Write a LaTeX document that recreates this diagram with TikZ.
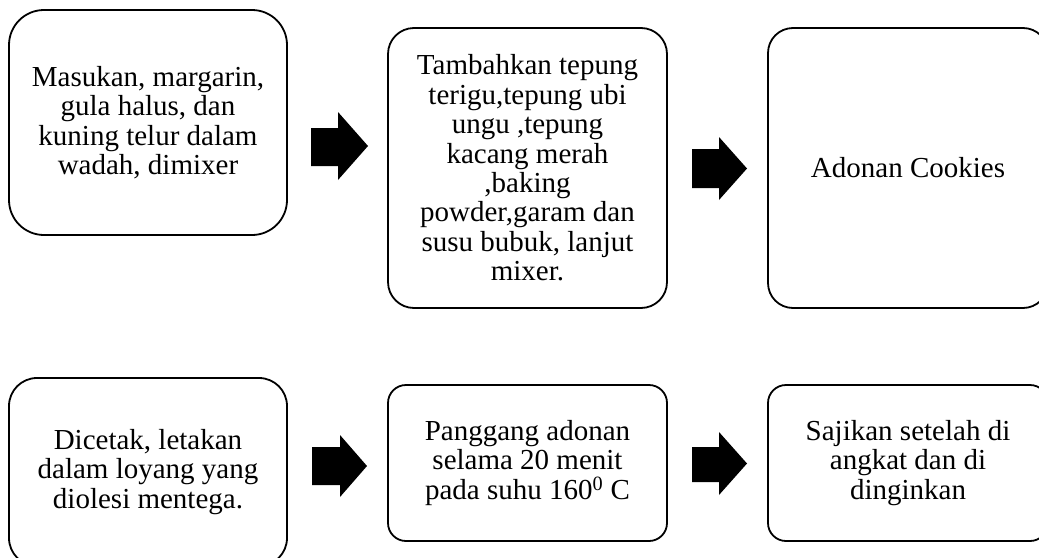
\documentclass[tikz,border=0pt]{standalone}
\usepackage{fontspec}
\setmainfont{Liberation Serif}
\begin{document}
\begin{tikzpicture}[x=1pt,y=-1pt,
  box/.style={draw, line width=1.8pt, rounded corners=#1, align=center, inner sep=0pt,
    font=\fontsize{29}{29.4}\selectfont},
  box/.default=25pt,
  blockarrow/.style={fill=black}]
\useasboundingbox (0,0) rectangle (1039,557);
\clip (0,0) rectangle (1039,557);
% top row
\node[box=35pt, minimum width=278pt, minimum height=225pt] (b1) at (148,122.5)
  {Masukan, margarin,\\gula halus, dan\\kuning telur dalam\\wadah, dimixer};
\node[box=26pt, minimum width=279pt, minimum height=280pt] (b2) at (527.5,168)
  {Tambahkan tepung\\terigu,tepung ubi\\ungu ,tepung\\kacang merah\\,baking\\powder,garam dan\\susu bubuk, lanjut\\mixer.};
\node[box=25pt, minimum width=280pt, minimum height=280pt] (b3) at (908,168)
  {Adonan Cookies};
% bottom row
\node[box=28pt, minimum width=278pt, minimum height=188pt] (b4) at (148,472)
  {Dicetak, letakan\\dalam loyang yang\\diolesi mentega.};
\node[box=18pt, minimum width=279pt, minimum height=156pt] (b5) at (527.5,463)
  {Panggang adonan\\selama 20 menit\\pada suhu 160\textsuperscript{0} C};
\node[box=18pt, minimum width=280pt, minimum height=156pt] (b6) at (908,463)
  {Sajikan setelah di\\angkat dan di\\dinginkan};
% block arrows
\fill[blockarrow] (311,128) -- (338,128) -- (338,112) -- (368,146) -- (338,180) -- (338,166) -- (311,166) -- cycle;
\fill[blockarrow] (692,149) -- (719,149) -- (719,137) -- (747,168.5) -- (719,200) -- (719,188) -- (692,188) -- cycle;
\fill[blockarrow] (312,447) -- (340,447) -- (340,435) -- (367,466) -- (340,497) -- (340,485) -- (312,485) -- cycle;
\fill[blockarrow] (692,447) -- (719,447) -- (719,432) -- (747,463.5) -- (719,495) -- (719,482) -- (692,482) -- cycle;
\end{tikzpicture}
\end{document}
